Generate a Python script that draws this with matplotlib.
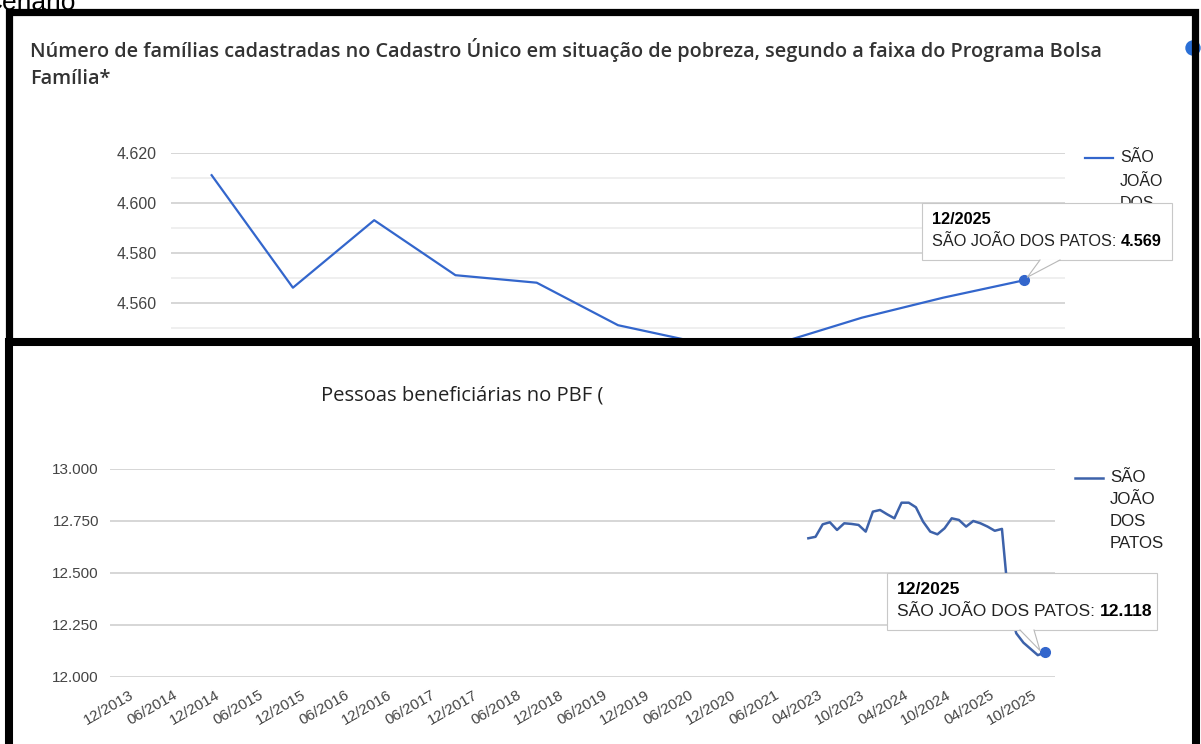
import matplotlib
matplotlib.use('Agg')
import matplotlib.pyplot as plt
from matplotlib.transforms import Affine2D, ScaledTranslation
from matplotlib.patches import Rectangle, Polygon, Circle
from matplotlib.lines import Line2D

# --- dados do grafico de cima (familias em situacao de pobreza, dezembro de cada ano)
anos_cad = ['12/2015', '12/2016', '12/2017', '12/2018', '12/2019', '12/2020',
            '12/2021', '12/2022', '12/2023', '12/2024', '12/2025']
familias_pobreza = [4611, 4566, 4593, 4571, 4568, 4551,
                    4544, 4544, 4554, 4562, 4569]

# --- dados do grafico de baixo (pessoas beneficiarias no PBF, mensal)
benef_valores = [12667, 12674, 12734, 12744, 12707, 12739, 12736, 12731, 12699, 12795,
                 12803, 12782, 12763, 12838, 12838, 12816, 12747, 12699, 12686, 12715,
                 12763, 12755, 12723, 12750, 12739, 12723, 12703, 12712, 12340, 12210,
                 12165, 12135, 12105, 12118]
benef_inicio = '03/2023'


def meses(ini, fim):
    m, a = map(int, ini.split('/'))
    m2, a2 = map(int, fim.split('/'))
    out = []
    while (a, m) <= (a2, m2):
        out.append('%02d/%d' % (m, a))
        m += 1
        if m > 12:
            m, a = 1, a + 1
    return out


# eixo categorico com buraco entre 06/2021 e 11/2022
categorias = meses('12/2013', '06/2021') + meses('11/2022', '12/2025')
benef_meses = meses(benef_inicio, '12/2025')
benef_x = [categorias.index(m) for m in benef_meses]


def milhar(v, pos=None):
    return ('{:,.0f}'.format(v)).replace(',', '.')


W, H = 1201, 744
fig = plt.figure(figsize=(W / 100, H / 100), dpi=100)
fig.patch.set_facecolor('white')
PX = Affine2D().scale(1.0 / W, -1.0 / H).translate(0, 1) + fig.transFigure


def box(x0, y0, x1, y1):
    return [x0 / W, 1 - y1 / H, (x1 - x0) / W, (y1 - y0) / H]


def to_px(ax, x, y):
    return PX.inverted().transform(ax.transData.transform((x, y)))


def tooltip(x0, y0, w, h, dot, base, titulo, valor, fs, z):
    fig.add_artist(Rectangle((x0, y0), w, h, transform=PX, fc='white',
                             ec='#c8c8c8', lw=0.8, zorder=z))
    yb = y0 + h
    fig.add_artist(Polygon([(base[0], yb - 0.5), (base[1], yb - 0.5), dot],
                           closed=True, transform=PX, fc='white', ec='none', zorder=z + 0.05))
    fig.add_artist(Line2D([base[0], dot[0], base[1]], [yb, dot[1], yb],
                          transform=PX, color='#b8b8b8', lw=0.8, zorder=z + 0.06))
    fig.text(x0 + 10, y0 + 16, titulo, transform=PX, fontsize=fs, family=sans,
             weight='bold', color='black', va='center', zorder=z + 0.1)
    t = fig.text(x0 + 10, y0 + 38, 'SÃO JOÃO DOS PATOS: ', transform=PX, fontsize=fs,
                 family=sans, color='#222222', va='center', zorder=z + 0.1)
    fig.canvas.draw()
    bb = t.get_window_extent()
    fig.text(bb.x1 / W, 1 - (y0 + 38) / H, valor, fontsize=fs, family=sans,
             weight='bold', color='black', va='center', zorder=z + 0.1)


sans = ['Liberation Sans', 'DejaVu Sans']
titlef = ['Open Sans', 'DejaVu Sans']
azul1 = '#3366cc'
azul2 = '#3d62aa'

# pedaço do texto cortado no topo
fig.text(-16, 10, 'Cenário', transform=PX, fontsize=19, family=sans,
         va='baseline', color='black')

# ---------------- grafico de cima ----------------
ax1 = fig.add_axes(box(171, 152.7, 1065, 352.7))
ax1.set_zorder(0)
ax1.plot(range(len(anos_cad)), familias_pobreza, color=azul1, lw=1.6,
         solid_joinstyle='round')
ax1.plot(len(anos_cad) - 1, familias_pobreza[-1], 'o', color=azul1, ms=7)
ax1.set_xlim(-0.5, len(anos_cad) - 0.5)
ax1.set_ylim(4540, 4620)
ax1.set_yticks(range(4540, 4621, 20))
ax1.set_yticks(range(4550, 4620, 20), minor=True)
ax1.yaxis.set_major_formatter(milhar)
ax1.grid(axis='y', which='major', color='#cccccc', lw=1.1)
ax1.grid(axis='y', which='minor', color='#ebebeb', lw=1.1)
ax1.set_xticks([])
for s in ax1.spines.values():
    s.set_visible(False)
ax1.tick_params(axis='y', which='both', length=0, pad=10, labelsize=11.5,
                labelcolor='#444444')
for t in ax1.get_yticklabels():
    t.set_family(sans)

fig.text(30, 57, 'Número de famílias cadastradas no Cadastro Único em situação de pobreza, '
         'segundo a faixa do Programa Bolsa', transform=PX, fontsize=14.3,
         family=titlef, weight='semibold', color='#333333', va='baseline')
fig.text(30, 84, 'Família*', transform=PX, fontsize=14.3, family=titlef,
         weight='semibold', color='#333333', va='baseline')

# legenda de cima
fig.add_artist(Line2D([1085, 1113], [158, 158], transform=PX, color=azul1, lw=1.6, zorder=1.2))
for i, w in enumerate(['SÃO', 'JOÃO', 'DOS']):
    fig.text(1120, 158 + 23 * i, w, transform=PX, fontsize=11.5, family=sans,
             color='#222222', va='center', zorder=1.2)

# tooltip de cima
d = to_px(ax1, len(anos_cad) - 1, familias_pobreza[-1])
tooltip(922, 203, 250, 57, (d[0] + 3, d[1] - 3), (1040, 1060), anos_cad[-1],
        milhar(familias_pobreza[-1]), 11.7, 1.5)

# bolinha azul cortada a direita
fig.add_artist(Circle((1193, 48), 7, transform=PX, color='#2a6fd6', zorder=0.9))

# moldura de cima
fig.add_artist(Rectangle((8.5, 12), 1186.5, 330, transform=PX, fill=False,
                         ec='black', lw=5.2, zorder=1.8))

# ---------------- painel de baixo ----------------
fig.add_artist(Rectangle((8.5, 342), 1187.5, 440, transform=PX, fc='white',
                         ec='black', lw=5.8, zorder=2))

ax2 = fig.add_axes(box(110, 469, 1055, 677))
ax2.set_zorder(3)
ax2.patch.set_visible(False)
ax2.plot(benef_x, benef_valores, color=azul2, lw=1.8, solid_joinstyle='round')
ax2.plot(benef_x[-1], benef_valores[-1], 'o', color='#3366cc', ms=7)
ax2.set_xlim(-2.4, 129.4)
ax2.set_ylim(12000, 13000)
ax2.set_yticks(range(12000, 13001, 250))
ax2.yaxis.set_major_formatter(milhar)
ax2.grid(axis='y', color='#cccccc', lw=1.1)
ax2.set_xticks(range(0, len(categorias), 6))
ax2.set_xticklabels(categorias[::6], rotation=30, ha='right', va='top',
                    rotation_mode='anchor')
for s in ax2.spines.values():
    s.set_visible(False)
ax2.tick_params(axis='y', length=0, pad=8, labelsize=11, labelcolor='#444444')
ax2.tick_params(axis='x', length=0, pad=8, labelsize=11, labelcolor='#444444')
shift = ScaledTranslation(2 / 100, 0, fig.dpi_scale_trans)
for t in ax2.get_xticklabels():
    t.set_transform(t.get_transform() + shift)
for t in ax2.get_yticklabels() + ax2.get_xticklabels():
    t.set_family(sans)

fig.text(321, 400, 'Pessoas beneficiárias no PBF (', transform=PX, fontsize=14.6,
         family=titlef, color='#222222', va='baseline', zorder=3)

# legenda de baixo
fig.add_artist(Line2D([1075, 1103], [478, 478], transform=PX, color=azul2, lw=1.8, zorder=3))
for i, w in enumerate(['SÃO', 'JOÃO', 'DOS', 'PATOS']):
    fig.text(1110, 478 + 21.7 * i, w, transform=PX, fontsize=12.2, family=sans,
             color='#222222', va='center', zorder=3)

# tooltip de baixo
d2 = to_px(ax2, benef_x[-1], benef_valores[-1])
tooltip(887, 573, 270, 57, (d2[0] - 5, d2[1] - 2), (1020, 1034), benef_meses[-1],
        milhar(benef_valores[-1]), 12.6, 4)

fig.savefig('out.png', dpi=100)
